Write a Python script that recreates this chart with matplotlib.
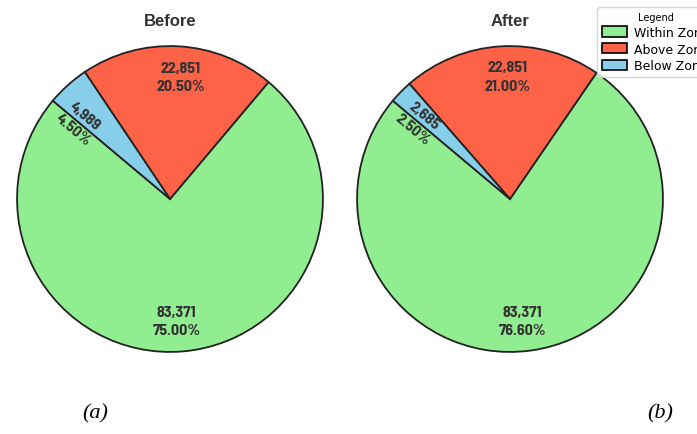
import numpy as np
import matplotlib
matplotlib.use("Agg")
import matplotlib.pyplot as plt
from matplotlib.patches import Patch

zones = ["Within Zone", "Above Zone", "Below Zone"]
colors = ["#90EE90", "#FF6347", "#87CEEB"]

before_counts = [83371, 22851, 4989]
before_pct = ["75.00%", "20.50%", "4.50%"]
after_counts = [83371, 22851, 2685]
after_pct = ["76.60%", "21.00%", "2.50%"]

label_font = ["Barlow Semi Condensed", "Barlow Condensed", "DejaVu Sans"]
title_font = ["Liberation Sans", "DejaVu Sans"]

fig = plt.figure(figsize=(6.97, 4.35), dpi=100)
W, H = 697, 435
R = 156


def draw_pie(cx, cy, counts, pcts, title):
    # axes placed in pixel units so the pie radius is fixed
    ax = fig.add_axes([(cx - R) / W, (H - cy - R) / H, 2 * R / W, 2 * R / H])
    wedges, _ = ax.pie(counts, colors=colors, startangle=140, counterclock=True,
                       wedgeprops=dict(edgecolor="#222222", linewidth=1.3))
    ax.set_xlim(-1.02, 1.02)
    ax.set_ylim(-1.02, 1.02)
    ax.set_aspect("equal")
    for w, n, p in zip(wedges, counts, pcts):
        span = w.theta2 - w.theta1
        if span < 30:
            # thin slice: label sits on its edge and runs along the radius
            ang = w.theta2
            rot = (ang % 360) - 180
            r = 0.78
        else:
            ang = (w.theta1 + w.theta2) / 2 - 2
            rot = 0
            r = 0.8
        x = r * np.cos(np.radians(ang))
        y = r * np.sin(np.radians(ang))
        ax.text(x, y, "{:,}\n{}".format(n, p), ha="center", va="center",
                rotation=rot, rotation_mode="anchor", fontsize=11.5,
                fontweight="bold", color="#333333", family=label_font,
                linespacing=1.4)
    fig.text(cx / W, 1 - 21 / H, title, ha="center", va="center",
             fontsize=12, fontweight="bold", color="#333333",
             family=title_font)
    return ax


draw_pie(170, 200, before_counts, before_pct, "Before")
draw_pie(510, 200, after_counts, after_pct, "After")

handles = [Patch(facecolor=c, edgecolor="black", linewidth=1.2) for c in colors]
leg = fig.legend(handles, zones, title="Legend", loc="upper left",
                 bbox_to_anchor=(597 / W, 1 - 8 / H), borderaxespad=0,
                 fontsize=9, title_fontsize=7, handlelength=2.0,
                 handleheight=0.9, labelspacing=0.3, borderpad=0.4,
                 handletextpad=0.6)
leg.get_frame().set_edgecolor("#cccccc")

fig.text(95 / W, 1 - 414 / H, "(a)", ha="center", va="center",
         fontsize=16, style="italic", family="Liberation Serif")
fig.text(660 / W, 1 - 414 / H, "(b)", ha="center", va="center",
         fontsize=16, style="italic", family="Liberation Serif")

fig.savefig("out.png", dpi=100, facecolor="white")
